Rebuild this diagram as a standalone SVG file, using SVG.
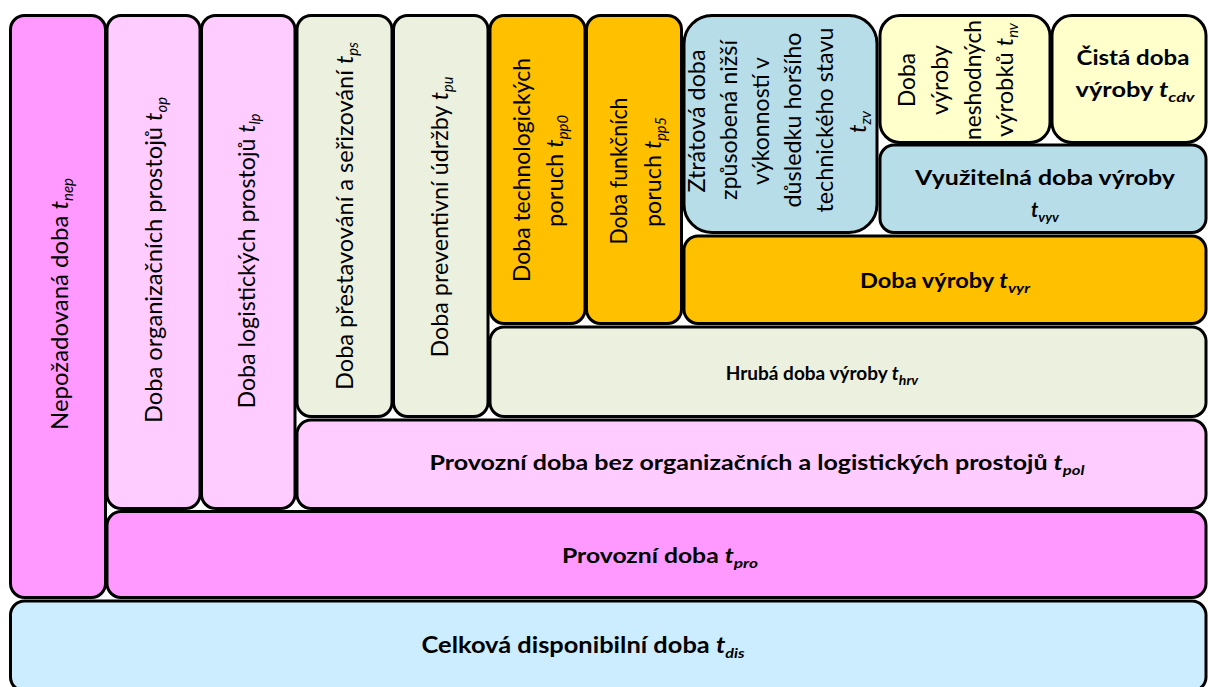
<svg xmlns="http://www.w3.org/2000/svg" width="1208" height="687" viewBox="0 0 1208 687">
<style>
.b{stroke:#000;stroke-width:3}
.pk{fill:#FF99FF}.lpk{fill:#FFCCFF}.gr{fill:#EBF0DF}.or{fill:#FFC000}.bl{fill:#B7DDE8}.ye{fill:#FFFFCC}.lb{fill:#CCECFF}
text{font-family:Lato,"Liberation Sans",sans-serif;fill:#000}
.r{font-size:24px}
.h{font-size:20px;font-weight:bold}
.h2{font-size:22px}
.i{font-style:italic}
.s{font-size:15px}
.hs{font-size:14px}
</style>
<rect width="1208" height="687" fill="#fff"/>
<g id="celkova"><rect class="b lb" x="10.5" y="601" width="1195.5" height="90" rx="14"/>
<text class="h h2" x="583" y="653" text-anchor="middle" textLength="323" lengthAdjust="spacingAndGlyphs">Celková disponibilní  doba <tspan class="i">t</tspan><tspan class="i hs" dy="5">dis</tspan></text></g>
<g id="nepozadovana"><rect class="b pk" x="10.5" y="15.5" width="95" height="582" rx="14"/>
<text class="r" transform="translate(68,304) rotate(-90)" text-anchor="middle" textLength="252" lengthAdjust="spacingAndGlyphs">Nepožadovaná doba <tspan class="i">t</tspan><tspan class="i s" dy="5">nep</tspan></text></g>
<g id="provozni"><rect class="b pk" x="107" y="511.5" width="1099" height="86" rx="14"/>
<text class="h" x="660" y="563" text-anchor="middle" textLength="196" lengthAdjust="spacingAndGlyphs">Provozní doba <tspan class="i">t</tspan><tspan class="i hs" dy="5">pro</tspan></text></g>
<g id="organizacni"><rect class="b lpk" x="107" y="15.5" width="93" height="493" rx="14"/>
<text class="r" transform="translate(162,260) rotate(-90)" text-anchor="middle" textLength="326" lengthAdjust="spacingAndGlyphs">Doba organizačních prostojů <tspan class="i">t</tspan><tspan class="i s" dy="5">op</tspan></text></g>
<g id="logisticke"><rect class="b lpk" x="201.5" y="15.5" width="93.5" height="493" rx="14"/>
<text class="r" transform="translate(255,261) rotate(-90)" text-anchor="middle" textLength="295" lengthAdjust="spacingAndGlyphs">Doba logistických prostojů <tspan class="i">t</tspan><tspan class="i s" dy="5">lp</tspan></text></g>
<g id="bez-prostoju"><rect class="b lpk" x="297" y="420" width="909" height="88.5" rx="14"/>
<text class="h" x="757" y="470" style="font-size:21px" text-anchor="middle" textLength="655" lengthAdjust="spacingAndGlyphs">Provozní  doba  bez organizačních  a  logistických  prostojů  <tspan class="i">t</tspan><tspan class="i hs" dy="5">pol</tspan></text></g>
<g id="prestavovani"><rect class="b gr" x="297" y="15.5" width="95" height="401" rx="14"/>
<text class="r" transform="translate(353,216) rotate(-90)" text-anchor="middle" textLength="348" lengthAdjust="spacingAndGlyphs">Doba přestavování  a  seřizování <tspan class="i">t</tspan><tspan class="i s" dy="5">ps</tspan></text></g>
<g id="preventivni"><rect class="b gr" x="393.5" y="15.5" width="94.5" height="401" rx="14"/>
<text class="r" transform="translate(448,217) rotate(-90)" text-anchor="middle" textLength="281" lengthAdjust="spacingAndGlyphs">Doba preventivní  údržby <tspan class="i">t</tspan><tspan class="i s" dy="5">pu</tspan></text></g>
<g id="hruba"><rect class="b gr" x="490" y="327" width="716" height="89.5" rx="14"/>
<text class="h" x="822" y="380" style="font-size:19px" text-anchor="middle">Hrubá doba výroby <tspan class="i">t</tspan><tspan class="i hs" dy="5">hrv</tspan></text></g>
<g id="technologicke"><rect class="b or" x="490" y="15.5" width="95" height="308" rx="14"/>
<text class="r" transform="translate(530,170) rotate(-90)" text-anchor="middle" textLength="224" lengthAdjust="spacingAndGlyphs">Doba technologických</text>
<text class="r" transform="translate(563,171) rotate(-90)" text-anchor="middle" textLength="112" lengthAdjust="spacingAndGlyphs">poruch <tspan class="i">t</tspan><tspan class="i s" dy="5">pp0</tspan></text></g>
<g id="funkcni"><rect class="b or" x="586.5" y="15.5" width="95" height="308" rx="14"/>
<text class="r" transform="translate(627,171) rotate(-90)" text-anchor="middle" textLength="147" lengthAdjust="spacingAndGlyphs">Doba funkčních</text>
<text class="r" transform="translate(661,172) rotate(-90)" text-anchor="middle" textLength="110" lengthAdjust="spacingAndGlyphs">poruch <tspan class="i">t</tspan><tspan class="i s" dy="5">pp5</tspan></text></g>
<g id="vyroba"><rect class="b or" x="684" y="236" width="522" height="87.5" rx="14"/>
<text class="h" x="945" y="288" text-anchor="middle" textLength="170" lengthAdjust="spacingAndGlyphs">Doba  výroby <tspan class="i">t</tspan><tspan class="i hs" dy="5">vyr</tspan></text></g>
<g id="ztratova"><rect class="b bl" x="684" y="15.5" width="193" height="217" rx="28"/>
<text class="r" transform="translate(705,121) rotate(-90)" text-anchor="middle" textLength="143" lengthAdjust="spacingAndGlyphs">Ztrátová doba</text>
<text class="r" transform="translate(737,120) rotate(-90)" text-anchor="middle" textLength="160" lengthAdjust="spacingAndGlyphs">způsobená  nižší</text>
<text class="r" transform="translate(769,121) rotate(-90)" text-anchor="middle" textLength="128" lengthAdjust="spacingAndGlyphs">výkonností v</text>
<text class="r" transform="translate(801,120) rotate(-90)" text-anchor="middle" textLength="175" lengthAdjust="spacingAndGlyphs">důsledku horšího</text>
<text class="r" transform="translate(833,120) rotate(-90)" text-anchor="middle" textLength="185" lengthAdjust="spacingAndGlyphs">technického stavu</text>
<text class="r" transform="translate(866,122) rotate(-90)" text-anchor="middle"><tspan class="i">t</tspan><tspan class="i s" dy="5">zv</tspan></text></g>
<g id="vyuzitelna"><rect class="b bl" x="880" y="145" width="326" height="87.5" rx="14"/>
<text class="h" x="1045" y="185" text-anchor="middle" textLength="260" lengthAdjust="spacingAndGlyphs">Využitelná  doba  výroby</text>
<text class="h" x="1045" y="217" text-anchor="middle"><tspan class="i">t</tspan><tspan class="i hs" dy="5">vyv</tspan></text></g>
<g id="neshodne"><rect class="b ye" x="880" y="15.5" width="170" height="127" rx="20"/>
<text class="r" transform="translate(915,80) rotate(-90)" text-anchor="middle" textLength="54" lengthAdjust="spacingAndGlyphs">Doba</text>
<text class="r" transform="translate(948,80) rotate(-90)" text-anchor="middle" textLength="70" lengthAdjust="spacingAndGlyphs">výroby</text>
<text class="r" transform="translate(981,80) rotate(-90)" text-anchor="middle" textLength="120" lengthAdjust="spacingAndGlyphs">neshodných</text>
<text class="r" transform="translate(1013,80) rotate(-90)" text-anchor="middle" textLength="114" lengthAdjust="spacingAndGlyphs">výrobků <tspan class="i">t</tspan><tspan class="i s" dy="5">nv</tspan></text></g>
<g id="cista"><rect class="b ye" x="1052" y="15.5" width="154" height="127" rx="20"/>
<text class="h" x="1133" y="65" text-anchor="middle" textLength="113" lengthAdjust="spacingAndGlyphs">Čistá  doba</text>
<text class="h" x="1135" y="97" text-anchor="middle" textLength="119" lengthAdjust="spacingAndGlyphs">výroby <tspan class="i">t</tspan><tspan class="i hs" dy="5">cdv</tspan></text></g>
<g id="connectors"/>
</svg>
